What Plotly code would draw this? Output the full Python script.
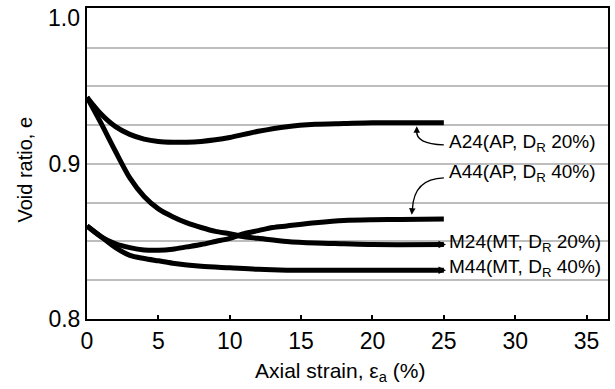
import plotly.graph_objects as go

# ---- data ----
strain_A24 = [0, 1, 2, 3, 4, 5, 6, 7, 8, 9, 10, 12, 14, 16, 18, 20, 22, 25]
e_A24 = [0.943, 0.932, 0.924, 0.919, 0.916, 0.9145, 0.914, 0.914, 0.9145, 0.9155, 0.917,
         0.921, 0.924, 0.9255, 0.926, 0.9265, 0.9265, 0.9265]

strain_M24 = [0, 1, 2, 3, 4, 5, 6, 7, 8, 9, 10, 11, 12, 14, 16, 18, 20, 25]
e_M24 = [0.943, 0.926, 0.908, 0.891, 0.879, 0.871, 0.866, 0.862, 0.859, 0.8565, 0.855,
         0.853, 0.852, 0.850, 0.849, 0.8485, 0.848, 0.848]

strain_A44 = [0, 1, 2, 3, 4, 5, 6, 7, 8, 9, 10, 11, 12, 13, 14, 16, 18, 20, 22, 25]
e_A44 = [0.860, 0.853, 0.8485, 0.846, 0.8445, 0.8443, 0.845, 0.8465, 0.848, 0.850, 0.852,
         0.855, 0.857, 0.859, 0.860, 0.862, 0.8635, 0.864, 0.8642, 0.8644]

strain_M44 = [0, 1, 2, 3, 4, 5, 6, 8, 10, 12, 14, 16, 20, 25]
e_M44 = [0.860, 0.853, 0.846, 0.841, 0.839, 0.8375, 0.836, 0.834, 0.833, 0.832, 0.8315,
         0.8314, 0.8314, 0.8314]

series = [
    ("A24(AP, D<sub>R</sub> 20%)", strain_A24, e_A24),
    ("A44(AP, D<sub>R</sub> 40%)", strain_A44, e_A44),
    ("M24(MT, D<sub>R</sub> 20%)", strain_M24, e_M24),
    ("M44(MT, D<sub>R</sub> 40%)", strain_M44, e_M44),
]

x_ticks = [0, 5, 10, 15, 20, 25, 30, 35]
y_ticks = [0.8, 0.9, 1.0]
y_ticktext = ["0.8", "0.9", "1.0"]

FONT = "Liberation Sans, Arial, sans-serif"

fig = go.Figure()
for name, xs, ys in series:
    fig.add_trace(go.Scatter(
        x=xs, y=ys, mode="lines", name=name,
        line=dict(color="black", width=5, shape="spline", smoothing=0.8),
        showlegend=False, hoverinfo="skip",
    ))

# labels
label_pos = {
    "A24": (25.2, 0.9136),
    "A44": (25.2, 0.8942),
    "M24": (25.2, 0.8489),
    "M44": (25.2, 0.8327),
}
for name, xs, ys in series:
    key = name[:3]
    lx, ly = label_pos[key]
    fig.add_annotation(x=lx, y=ly, xref="x", yref="y", text=name, showarrow=False,
                       xanchor="left", yanchor="middle",
                       font=dict(family=FONT, size=19, color="#000000"))

# curved leader lines for A24 and A44
fig.add_shape(type="path", xref="x", yref="y",
              path="M 25.0,0.9123 Q 23.0,0.9128 23.1,0.9215",
              line=dict(color="black", width=1.3))
fig.add_annotation(x=23.1, y=0.9242, ax=23.1, ay=0.9205, xref="x", yref="y",
                   axref="x", ayref="y", text="", showarrow=True,
                   arrowhead=2, arrowsize=1, arrowwidth=1.3, arrowcolor="black")
fig.add_shape(type="path", xref="x", yref="y",
              path="M 25.0,0.891 Q 22.9,0.8905 22.8,0.871",
              line=dict(color="black", width=1.3))
fig.add_annotation(x=22.75, y=0.8672, ax=22.8, ay=0.8725, xref="x", yref="y",
                   axref="x", ayref="y", text="", showarrow=True,
                   arrowhead=2, arrowsize=1, arrowwidth=1.3, arrowcolor="black")
# short arrows into M labels
for xs, ys in [(strain_M24, e_M24), (strain_M44, e_M44)]:
    fig.add_annotation(x=25.15, y=ys[-1], ax=xs[-1] - 1.0, ay=ys[-1], xref="x", yref="y",
                       axref="x", ayref="y", text="", showarrow=True,
                       arrowhead=2, arrowsize=1, arrowwidth=1.5, arrowcolor="black")

# top y tick label drawn as annotation (sits just below the top edge as in the reference)
fig.add_annotation(xref="paper", yref="y", x=0, y=y_ticks[-1], xshift=-5, yshift=-9,
                   text=y_ticktext[-1], showarrow=False, xanchor="right", yanchor="middle",
                   font=dict(family=FONT, size=23, color="black"))

# axis titles
fig.add_annotation(xref="paper", yref="paper", x=0.486, y=0, yshift=-53,
                   text="Axial strain, ε<sub>a</sub> (%)", showarrow=False,
                   xanchor="center", yanchor="middle",
                   font=dict(family=FONT, size=21, color="black"))
fig.add_annotation(xref="paper", yref="paper", x=-0.118, y=0.479,
                   text="Void ratio, e", showarrow=False, textangle=-90,
                   xanchor="center", yanchor="middle",
                   font=dict(family=FONT, size=20, color="black"))

fig.update_xaxes(range=[0, 36.5], tickvals=x_ticks, ticks="inside", ticklen=4,
                 tickwidth=1.5, tickcolor="black", automargin=False,
                 showline=True, linecolor="black", linewidth=2, mirror=True,
                 showgrid=False, zeroline=False,
                 tickfont=dict(family=FONT, size=23, color="black"))
fig.update_yaxes(range=[0.8, 1.0005], tickvals=y_ticks,
                 ticktext=y_ticktext[:-1] + [""], automargin=False,
                 ticks="", showline=True, linecolor="black", linewidth=2, mirror=True,
                 showgrid=True, gridcolor="#bdbdbd", gridwidth=1.5,
                 minor=dict(dtick=0.025, showgrid=True, gridcolor="#bdbdbd", gridwidth=1.5),
                 zeroline=False,
                 tickfont=dict(family=FONT, size=23, color="black"))

fig.update_layout(width=615, height=389, margin=dict(l=87, r=7, t=8, b=70),
                  paper_bgcolor="white", plot_bgcolor="white",
                  font=dict(family=FONT, color="black"))

fig.write_html("out.html")
